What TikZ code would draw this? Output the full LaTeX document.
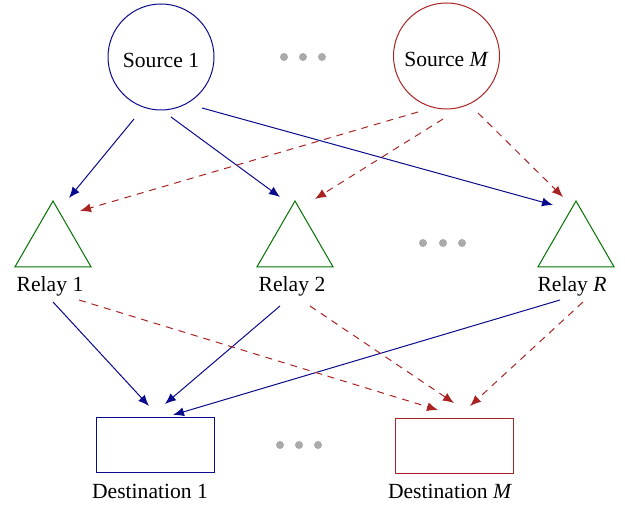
\documentclass[tikz,border=0pt]{standalone}
\usepackage{fontspec}
\setmainfont{Liberation Serif}
\usetikzlibrary{shapes.geometric,arrows.meta}
\definecolor{cblue}{RGB}{10,10,140}
\definecolor{cred}{RGB}{170,35,35}
\definecolor{cgreen}{RGB}{0,115,0}
\definecolor{cgray}{RGB}{170,170,170}
\tikzset{
  src/.style={circle,draw,line width=0.5pt,minimum size=53pt,inner sep=0pt,text height=11pt,text depth=0pt},
  relay/.style={regular polygon,regular polygon sides=3,draw=cgreen,line width=0.5pt,minimum size=44pt,inner sep=0pt},
  dst/.style={rectangle,draw,line width=0.5pt,minimum width=59pt,minimum height=27.5pt,inner sep=0pt},
  lbl/.style={anchor=base,inner sep=0pt},
  dot/.style={circle,fill=cgray,minimum size=4pt,inner sep=0pt},
  bl/.style={draw=cblue,line width=0.5pt,-{Latex[length=5.5pt,width=4.5pt]}},
  rd/.style={draw=cred,line width=0.5pt,dash pattern=on 3.5pt off 3pt,-{Latex[length=5.5pt,width=4.5pt]}}
}
\begin{document}
\begin{tikzpicture}[x=0.5pt,y=-0.5pt,font=\fontsize{10.8}{13}\selectfont]
\useasboundingbox (0,0) rectangle (625,506);
% sources
\node[src,draw=cblue] (s1) at (161,57) {Source 1};
\node[src,draw=cred] (sM) at (446.5,56) {Source \textit{M}};
\node[dot] (td1) at (284,57) {};
\node[dot] (td2) at (303,57) {};
\node[dot] (td3) at (322,57) {};
% relays
\node[relay] (r1) at (53,245) {};
\node[relay] (r2) at (295,245) {};
\node[relay] (rR) at (576,245) {};
\node[lbl] (r1l) at (50,292) {Relay 1};
\node[lbl] (r2l) at (292,292) {Relay 2};
\node[lbl] (rRl) at (572,292) {Relay \textit{R}};
\node[dot] (md1) at (423,243) {};
\node[dot] (md2) at (443,243) {};
\node[dot] (md3) at (462,243) {};
% destinations
\node[dst,draw=cblue] (d1) at (155,445.5) {};
\node[dst,draw=cred] (dM) at (454,446.5) {};
\node[lbl] (d1l) at (150,498) {Destination 1};
\node[lbl] (dMl) at (450,498) {Destination \textit{M}};
\node[dot] (bd1) at (280,445) {};
\node[dot] (bd2) at (299,445) {};
\node[dot] (bd3) at (318,445) {};
% source 1 links
\draw[bl] ([shift={(-27,62)}]s1.center) -- ([shift={(16,-47)}]r1.center);
\draw[bl] ([shift={(10,60)}]s1.center) -- ([shift={(-15,-48)}]r2.center);
\draw[bl] ([shift={(41,51)}]s1.center) -- ([shift={(-23,-40)}]rR.center);
% source M links
\draw[rd] ([shift={(-28.5,56)}]sM.center) -- ([shift={(27,-34)}]r1.center);
\draw[rd] ([shift={(-3.5,63)}]sM.center) -- ([shift={(20,-46)}]r2.center);
\draw[rd] ([shift={(31.5,57)}]sM.center) -- ([shift={(-13,-48)}]rR.center);
% relay to destination 1
\draw[bl] ([shift={(0,57)}]r1.center) -- ([shift={(-6,-39.5)}]d1.center);
\draw[bl] ([shift={(-15,61)}]r2.center) -- ([shift={(10,-41.5)}]d1.center);
\draw[bl] ([shift={(-16,55)}]rR.center) -- ([shift={(18,-30.5)}]d1.center);
% relay to destination M
\draw[rd] ([shift={(26,55)}]r1.center) -- ([shift={(-16,-36.5)}]dM.center);
\draw[rd] ([shift={(15,61)}]r2.center) -- ([shift={(0,-43.5)}]dM.center);
\draw[rd] ([shift={(7,57)}]rR.center) -- ([shift={(16,-40.5)}]dM.center);
\end{tikzpicture}
\end{document}
